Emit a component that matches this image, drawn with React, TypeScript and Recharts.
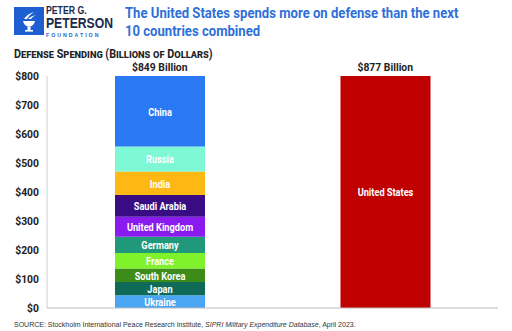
import { Bar, BarChart, LabelList, XAxis, YAxis } from "recharts"

const COLUMNS = ["Others", "United States"]
const TOTAL_LABELS = ["$849 Billion", "$877 Billion"]

// bottom to top, billions of dollars
const COUNTRIES = [
  "Ukraine",
  "Japan",
  "South Korea",
  "France",
  "Germany",
  "United Kingdom",
  "Saudi Arabia",
  "India",
  "Russia",
  "China",
]
const COUNTRY_SPENDING = [44, 46, 46.4, 53.6, 55.8, 68.5, 75, 81.4, 86.4, 292]
const COUNTRY_COLORS = [
  "#4aa6f3",
  "#0f6b57",
  "#3d8c1a",
  "#80f22b",
  "#20997a",
  "#8a1bef",
  "#3a0c84",
  "#fdb813",
  "#7df7d4",
  "#2b79f2",
]
const US_SPENDING = 877
const US_COLOR = "#c00000"

const Y_TICKS = [0, 100, 200, 300, 400, 500, 600, 700, 800]

const TITLE_LINES = ["The United States spends more on defense than the next", "10 countries combined"]

const FONT = "Roboto, 'Liberation Sans', sans-serif"
const PLOT_TOP = 76

const data = COLUMNS.map((name, i) => {
  const row: Record<string, string | number> = { name }
  if (i === 0) COUNTRIES.forEach((c, j) => (row[c] = COUNTRY_SPENDING[j]))
  else row["United States"] = US_SPENDING
  return row
})

const series = [
  ...COUNTRIES.map((c, i) => ({ key: c, color: COUNTRY_COLORS[i] })),
  { key: "United States", color: US_COLOR },
]

// narrow bold text, squeezed horizontally around its anchor
const Narrow = ({ x, y, children, size, fill, anchor = "middle", sx = 0.84 }: any) => (
  <text
    transform={`translate(${x},${y}) scale(${sx},1)`}
    textAnchor={anchor}
    dominantBaseline="central"
    fill={fill}
    fontSize={size}
    fontWeight="bold"
    fontFamily={FONT}
  >
    {children}
  </text>
)

const segmentLabel = (name: string) => (props: any) => {
  const vb = props.viewBox ?? props
  if (!props.value || !vb || vb.height == null) return null
  const top = Math.max(vb.y, PLOT_TOP)
  const cy = (top + vb.y + vb.height) / 2
  return (
    <Narrow x={vb.x + vb.width / 2} y={cy + 0.5} size={11.5} fill="#fff" sx={0.8}>
      {name}
    </Narrow>
  )
}

const TopTick = (props: any) => (
  <Narrow x={props.x} y={props.y - 7} size={11.5} fill="#222" sx={0.9}>
    {TOTAL_LABELS[props.index]}
  </Narrow>
)

const YTick = (props: any) => (
  <Narrow x={props.x} y={props.y} size={11.5} fill="#222" anchor="end" sx={0.9}>
    {`$${props.payload.value}`}
  </Narrow>
)

const Logo = () => (
  <svg width={30} height={28} viewBox="0 0 30 28">
    <rect width={30} height={28} fill="#1d5fd1" />
    <path d="M9 14 H21 Q20 19 15 20 Q10 19 9 14 Z" fill="#fff" />
    <rect x={13.5} y={20} width={3} height={3} fill="#fff" />
    <rect x={11} y={23} width={8} height={1.6} fill="#fff" />
    <path d="M10 12 Q13 7 20 5 Q15 8 13 12 Z" fill="#fff" />
    <path d="M14 12 Q17 9 22 8 Q18 10 17 12 Z" fill="#fff" />
  </svg>
)

export default function App() {
  return (
    <div
      style={{
        position: "absolute",
        left: 0,
        top: 0,
        width: 512,
        height: 331,
        background: "#fff",
        overflow: "hidden",
      }}
    >
      <div style={{ position: "absolute", left: 14, top: 7 }}>
        <Logo />
      </div>
      <div
        style={{
          position: "absolute",
          left: 46,
          top: 6,
          fontFamily: "'Liberation Sans', Arial, sans-serif",
          fontWeight: "bold",
          color: "#1b2a4a",
          lineHeight: 1,
          transform: "scaleX(0.87)",
          transformOrigin: "left top",
          whiteSpace: "nowrap",
        }}
      >
        <div style={{ fontSize: 10 }}>PETER G.</div>
        <div style={{ fontSize: 14 }}>PETERSON</div>
        <div style={{ fontSize: 6, letterSpacing: 2.3, color: "#1d5fd1", marginTop: 1.5 }}>
          FOUNDATION
        </div>
      </div>
      {TITLE_LINES.map((line, i) => (
        <div
          key={line}
          style={{
            position: "absolute",
            left: 125,
            top: 5 + i * 18,
            fontFamily: FONT,
            fontWeight: "bold",
            fontSize: 15.5,
            lineHeight: "16px",
            color: "#2f6fd9",
            whiteSpace: "nowrap",
            transform: "scaleX(0.845)",
            transformOrigin: "left top",
          }}
        >
          {line}
        </div>
      ))}
      <div
        style={{
          position: "absolute",
          left: 14,
          top: 47,
          fontFamily: FONT,
          fontWeight: "bold",
          fontSize: 12,
          fontVariant: "small-caps",
          color: "#222",
          whiteSpace: "nowrap",
          transform: "scaleX(0.9)",
          transformOrigin: "left top",
        }}
      >
        Defense Spending (Billions of Dollars)
      </div>

      <div style={{ position: "absolute", left: 0, top: 0 }}>
        <BarChart
          width={512}
          height={331}
          data={data}
          margin={{ top: PLOT_TOP - 14, right: 14, bottom: 22, left: 0 }}
          barSize={90}
        >
          <XAxis dataKey="name" tick={false} tickLine={false} height={1} stroke="#bdbdbd" />
          <XAxis
            xAxisId="top"
            dataKey="name"
            orientation="top"
            height={14}
            axisLine={false}
            tickLine={false}
            tickSize={0}
            tick={<TopTick />}
          />
          <YAxis
            type="number"
            domain={[0, 800]}
            ticks={Y_TICKS}
            allowDataOverflow
            width={47}
            tickLine={false}
            stroke="#cfcfcf"
            tick={<YTick />}
          />
          {series.map((s) => (
            <Bar
              key={s.key}
              dataKey={s.key}
              stackId="a"
              fill={s.color}
              isAnimationActive={false}
            >
              <LabelList dataKey={s.key} content={segmentLabel(s.key)} />
            </Bar>
          ))}
        </BarChart>
      </div>

      <div
        style={{
          position: "absolute",
          left: 14,
          top: 321,
          fontFamily: "'Liberation Sans', Arial, sans-serif",
          fontSize: 7,
          color: "#333",
          whiteSpace: "nowrap",
        }}
      >
        SOURCE: Stockholm International Peace Research Institute, <i>SIPRI Military Expenditure Database</i>, April 2023.
      </div>
    </div>
  )
}
